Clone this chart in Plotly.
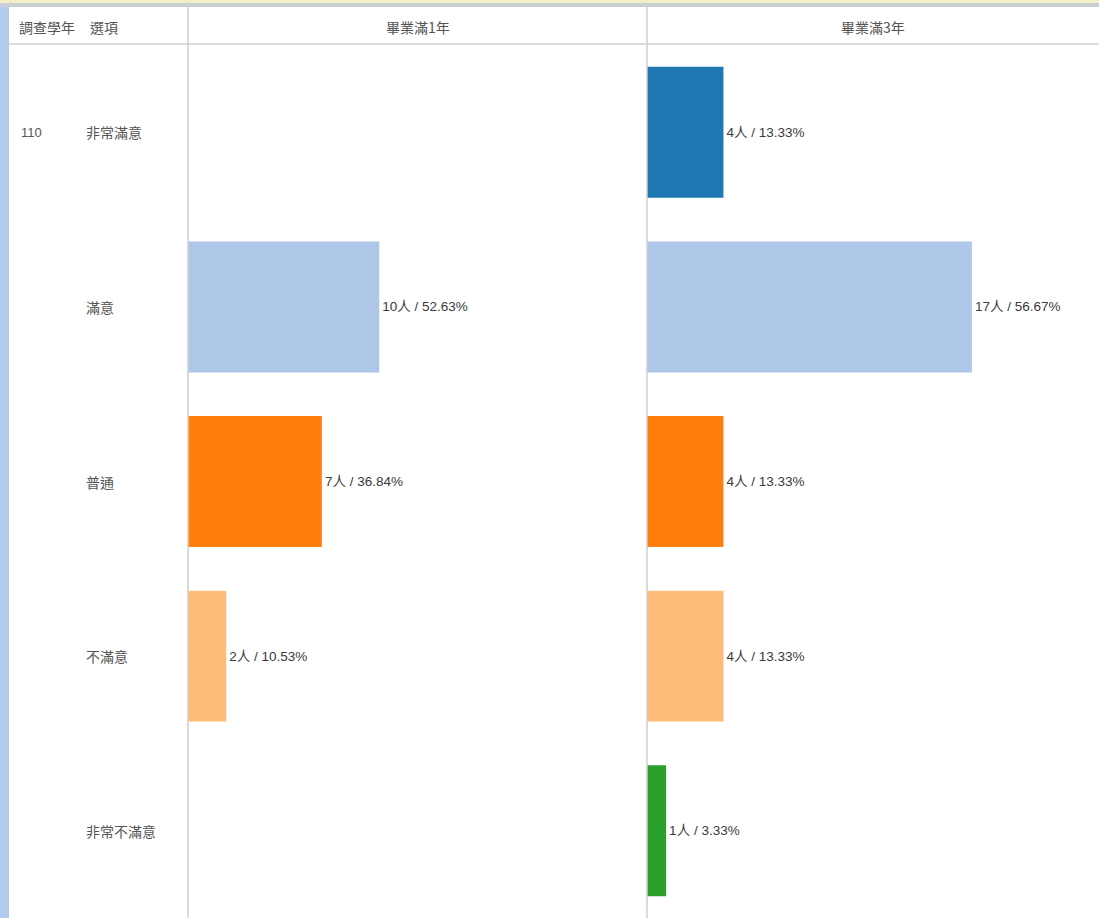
import plotly.graph_objects as go

year = "110"
options = ["非常滿意", "滿意", "普通", "不滿意", "非常不滿意"]
col_titles = ["畢業滿1年", "畢業滿3年"]
counts_1y = [None, 10, 7, 2, None]
pct_1y = [None, 52.63, 36.84, 10.53, None]
counts_3y = [4, 17, 4, 4, 1]
pct_3y = [13.33, 56.67, 13.33, 13.33, 3.33]
colors = ["#1f77b4", "#aec7e8", "#ff7f0e", "#ffbb78", "#2ca02c"]

W, H = 1099, 918
xa, xb, xc = 188 / W, 647 / W, 1.0
ytop = 1 - 45 / H
FONT = "Liberation Sans, Noto Sans CJK TC"
CJK = "Noto Sans CJK TC"

def labels(c, p):
    return ["" if n is None else f"{n}人 / {v:.2f}%" for n, v in zip(c, p)]

fig = go.Figure()
for cnts, pcts, xax in [(counts_1y, pct_1y, "x"), (counts_3y, pct_3y, "x2")]:
    fig.add_trace(go.Bar(
        x=cnts, y=options, orientation="h", xaxis=xax, yaxis="y",
        marker=dict(color=colors, line=dict(width=0)),
        width=0.75,
        text=labels(cnts, pcts), textposition="outside",
        textfont=dict(family=FONT, size=13.5, color="#3a3a3a"),
        cliponaxis=False, showlegend=False, hoverinfo="skip",
    ))

fig.update_layout(
    width=W, height=H, margin=dict(l=0, r=0, t=0, b=0),
    paper_bgcolor="white", plot_bgcolor="white",
    font=dict(family=FONT, size=13, color="#555"),
    bargap=0.25,
    xaxis=dict(domain=[xa, xb], range=[0, 24.0], visible=False),
    xaxis2=dict(domain=[xb, xc], range=[0, 23.65], visible=False),
    yaxis=dict(domain=[0, ytop], range=[4.5, -0.5], visible=False,
               categoryorder="array", categoryarray=options),
)

shapes = [
    dict(type="rect", xref="paper", yref="paper", x0=0, x1=1, y0=1 - 3 / H, y1=1,
         fillcolor="#f2efc9", line=dict(width=0), layer="above"),
    dict(type="rect", xref="paper", yref="paper", x0=0, x1=1, y0=1 - 7 / H, y1=1 - 3 / H,
         fillcolor="#c9d0cf", line=dict(width=0), layer="above"),
    dict(type="rect", xref="paper", yref="paper", x0=0, x1=9 / W, y0=0, y1=1 - 7 / H,
         fillcolor="#b3cbef", line=dict(width=0), layer="above"),
    dict(type="line", xref="paper", yref="paper", x0=9 / W, x1=1, y0=1 - 44 / H, y1=1 - 44 / H,
         line=dict(color="#dcdcdc", width=2)),
    dict(type="line", xref="paper", yref="paper", x0=xa, x1=xa, y0=0, y1=1 - 7 / H,
         line=dict(color="#cfcfcf", width=1.5)),
    dict(type="line", xref="paper", yref="paper", x0=xb, x1=xb, y0=0, y1=1 - 7 / H,
         line=dict(color="#cfcfcf", width=1.5)),
]
fig.update_layout(shapes=shapes)

ann = []
hy = 1 - 27 / H
hfont = dict(family=CJK, size=14, color="#555")
ann.append(dict(text="調查學年", x=17 / W, y=hy, xref="paper", yref="paper",
                xanchor="left", yanchor="middle", showarrow=False, font=hfont))
ann.append(dict(text="選項", x=88 / W, y=hy, xref="paper", yref="paper",
                xanchor="left", yanchor="middle", showarrow=False, font=hfont))
for t, (a, b) in zip(col_titles, [(xa, xb), (xb, xc)]):
    ann.append(dict(text=t, x=(a + b) / 2, y=hy, xref="paper", yref="paper",
                    xanchor="center", yanchor="middle", showarrow=False, font=hfont))
ann.append(dict(text=year, x=19 / W, y=options[0], xref="paper", yref="y",
                xanchor="left", yanchor="middle", showarrow=False,
                font=dict(family=FONT, size=13, color="#555")))
for o in options:
    ann.append(dict(text=o, x=84 / W, y=o, xref="paper", yref="y",
                    xanchor="left", yanchor="middle", showarrow=False, font=hfont))
fig.update_layout(annotations=ann)

fig.write_html("out.html", config={"displayModeBar": False},
               post_script="document.body.style.margin='0';document.body.style.overflow='hidden';")
